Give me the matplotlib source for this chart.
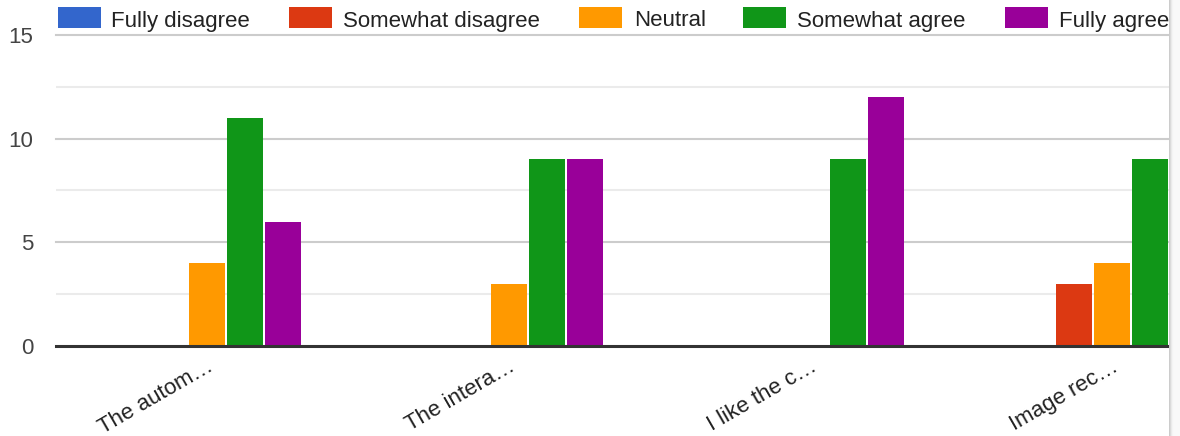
import numpy as np
import matplotlib.pyplot as plt
from matplotlib.patches import Rectangle

plt.rcParams['font.family'] = ['Liberation Sans', 'DejaVu Sans']

# data
questions = ['The autom…', 'The intera…', 'I like the c…', 'Image rec…']
answers = ['Fully disagree', 'Somewhat disagree', 'Neutral', 'Somewhat agree', 'Fully agree']
fully_disagree = [0, 0, 0, 0]
somewhat_disagree = [0, 0, 0, 3]
neutral = [4, 3, 0, 4]
somewhat_agree = [11, 9, 9, 9]
fully_agree = [6, 9, 12, 5]
yticks = [0, 5, 10, 15]

series = [fully_disagree, somewhat_disagree, neutral, somewhat_agree, fully_agree]
colors = ['#3366cc', '#dc3912', '#ff9900', '#109618', '#990099']

W, H = 1180, 436
fig = plt.figure(figsize=(W / 100, H / 100), dpi=100)
fig.patch.set_facecolor('white')

# plot area in pixels (it is cut off on the right like the screenshot)
left, right, top, bottom = 56, 1169, 35, 346
ax = fig.add_axes([left / W, 1 - bottom / H, (right - left) / W, (bottom - top) / H])

slot = 301.7  # pixels per category
x = np.arange(len(questions))
pitch = 38 / slot
width = 36 / slot
for k, (vals, c) in enumerate(zip(series, colors)):
    ax.bar(x + (k - 2) * pitch, vals, width=width, color=c, zorder=3, linewidth=0)

ax.set_xlim(-0.5, -0.5 + (right - left) / slot)
ax.set_ylim(0, 15)

# gridlines: major every 5, minor every 2.5
for v in [2.5, 7.5, 12.5]:
    ax.axhline(v, color='#ebebeb', lw=1.5, zorder=1)
for v in [5, 10, 15]:
    ax.axhline(v, color='#cccccc', lw=1.5, zorder=1, clip_on=False)
ax.axhline(0, color='#333333', lw=2.2, zorder=4, clip_on=False)

for s in ax.spines.values():
    s.set_visible(False)
ax.tick_params(length=0)
ax.set_yticks(yticks)
ax.set_yticklabels([str(v) for v in yticks], fontsize=16, color='#444444')
ax.tick_params(axis='y', pad=16.5)
ax.set_xticks(x)
ax.set_xticklabels(questions, rotation=30, ha='right', rotation_mode='anchor',
                   fontsize=16, color='#222222')
ax.tick_params(axis='x', pad=7)

# legend across the top
sw_x = [58, 289, 579, 743, 1005]
tx_x = [111, 343, 634, 797, 1059]
for name, c, sx, tx in zip(answers, colors, sw_x, tx_x):
    fig.add_artist(Rectangle((sx / W, 1 - 28 / H), 43 / W, 21 / H,
                             transform=fig.transFigure, color=c, lw=0))
    fig.text(tx / W, 1 - 26.5 / H, name, fontsize=16, color='#222222', va='baseline')

# grey shadow strip at the right edge
sh = fig.add_axes([right / W, 0, (W - right) / W, 1])
grad = np.array([[0.80, 0.86, 0.92, 0.96, 0.975, 0.98, 0.98, 0.98, 0.98, 0.98, 0.98]])
sh.imshow(np.dstack([grad] * 3), aspect='auto', interpolation='bilinear')
sh.axis('off')

fig.savefig('out.png', dpi=100, facecolor='white')
